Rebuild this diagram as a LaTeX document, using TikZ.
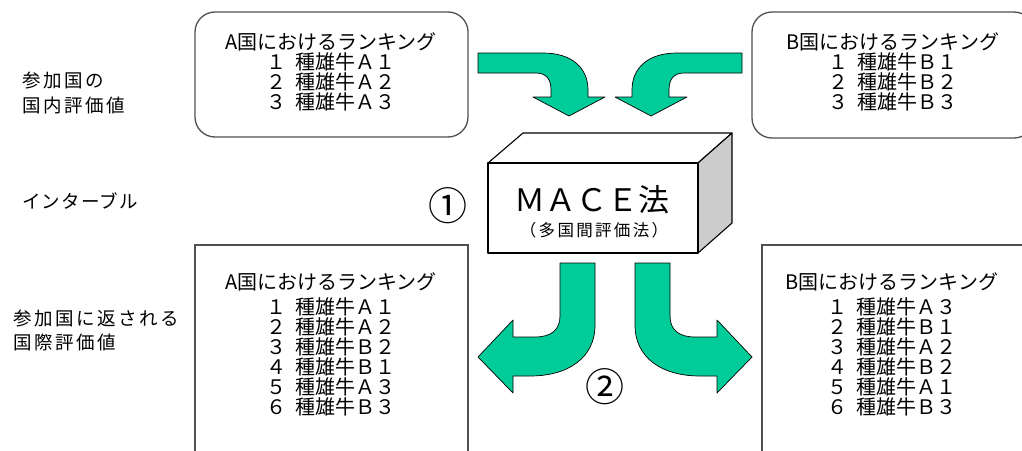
\documentclass[tikz,border=0pt]{standalone}
\usepackage{fontspec}
\setmainfont{Noto Sans CJK JP}
\newfontfamily\jpls[LetterSpace=14]{Noto Sans CJK JP}
\newfontfamily\jplsb[LetterSpace=6]{Noto Sans CJK JP}
\newfontfamily\jplsc[LetterSpace=14]{Noto Sans CJK JP}
\definecolor{mgreen}{RGB}{0,204,153}
\definecolor{boxgray}{RGB}{80,80,80}
\definecolor{sidegray}{RGB}{204,204,204}
\begin{document}
\begin{tikzpicture}[x=1pt,y=-1pt,
  rbox/.style={draw=boxgray, line width=1.3pt, rounded corners=20pt},
  sbox/.style={draw=boxgray, line width=1.3pt},
  arr/.style={fill=mgreen, draw=black, line width=0.7pt, line join=round},
  cubeface/.style={draw=black, line width=1.1pt, line join=round},
  rank/.style={font=\fontsize{20}{20}\selectfont, align=center, inner sep=0pt},
  lbl/.style={font=\jpls\fontsize{18.5}{25}\selectfont, align=left, anchor=west, inner sep=0pt},
  circ/.style={font=\fontsize{39}{39}\selectfont, inner sep=0pt}]
\useasboundingbox (0,0) rectangle (1022,450);
\clip (0,0) rectangle (1022,450);
% boxes
\draw[rbox] (195,12) rectangle (468,137);
\draw[rbox] (752,12) rectangle (1034,138);
\draw[sbox] (195,245) rectangle (468,470);
\draw[sbox] (762,245) rectangle (1040,470);
% arrows
\draw[arr] (478,53) -- (543,53) .. controls (572,53) and (588,68) .. (588,90) -- (588,97) -- (605,97) -- (569,116) -- (533,97) -- (551,97) -- (551,90) .. controls (551,79) and (546,73) .. (536,73) -- (478,73) -- cycle;
\draw[arr] (742,53) -- (677,53) .. controls (648,53) and (632,68) .. (632,90) -- (632,97) -- (615,97) -- (651,116) -- (687,97) -- (669,97) -- (669,90) .. controls (669,79) and (674,73) .. (684,73) -- (742,73) -- cycle;
\draw[arr] (560,263) -- (595,263) -- (595,325) .. controls (595,358) and (568,376) .. (530,376) -- (513,376) -- (513,393) -- (478,357) -- (513,320) -- (513,337) -- (535,337) .. controls (551,337) and (560,330) .. (560,316) -- cycle;
\draw[arr] (670,263) -- (635,263) -- (635,325) .. controls (635,358) and (662,376) .. (700,376) -- (717,376) -- (717,393) -- (752,357) -- (717,320) -- (717,337) -- (695,337) .. controls (679,337) and (670,330) .. (670,316) -- cycle;
% cube
\draw[cubeface, fill=white] (488,163) -- (523,133) -- (732,133) -- (698,163) -- cycle;
\draw[cubeface, fill=sidegray] (698,163) -- (732,133) -- (732,223) -- (698,253) -- cycle;
\draw[cubeface, fill=white] (488,163) rectangle (698,253);
% texts
\node[rank] (topA) at (331,72) {A国におけるランキング\\１\hspace{0.45em}種雄牛Ａ１\\２\hspace{0.45em}種雄牛Ａ２\\３\hspace{0.45em}種雄牛Ａ３};
\node[rank] (topB) at (893,72) {B国におけるランキング\\１\hspace{0.45em}種雄牛Ｂ１\\２\hspace{0.45em}種雄牛Ｂ２\\３\hspace{0.45em}種雄牛Ｂ３};
\node[rank] (botA) at (331,344) {A国におけるランキング\\[5pt]１\hspace{0.45em}種雄牛Ａ１\\２\hspace{0.45em}種雄牛Ａ２\\３\hspace{0.45em}種雄牛Ｂ２\\４\hspace{0.45em}種雄牛Ｂ１\\５\hspace{0.45em}種雄牛Ａ３\\６\hspace{0.45em}種雄牛Ｂ３};
\node[rank] (botB) at (892,344) {B国におけるランキング\\[5pt]１\hspace{0.45em}種雄牛Ａ３\\２\hspace{0.45em}種雄牛Ｂ１\\３\hspace{0.45em}種雄牛Ａ２\\４\hspace{0.45em}種雄牛Ｂ２\\５\hspace{0.45em}種雄牛Ａ１\\６\hspace{0.45em}種雄牛Ｂ３};
\node[lbl] (l1) at (22,92.5) {参加国の\\国内評価値};
\node[lbl, font=\jplsb\fontsize{18.5}{25}\selectfont] (l2) at (22,201) {インターブル};
\node[lbl, font=\jpls\fontsize{18.5}{24}\selectfont] (l3) at (13,330) {参加国に返される\\国際評価値};
\node[inner sep=0pt, font=\fontsize{31}{31}\selectfont] (mace) at (592,200) {ＭＡＣＥ法};
\node[inner sep=0pt, font=\jplsc\fontsize{16.5}{16.5}\selectfont] (macesub) at (594,230) {（多国間評価法）};
\node[circ] (c1) at (448,206) {①};
\node[circ] (c2) at (605,387) {②};
\end{tikzpicture}
\end{document}
